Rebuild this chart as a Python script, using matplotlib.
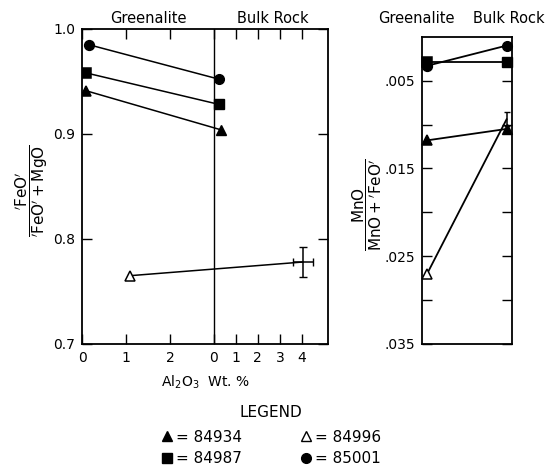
import numpy as np
import matplotlib.pyplot as plt
from matplotlib.lines import Line2D

# sample ids and marker styles
samples = ['84934', '84987', '84996', '85001']
markers = {'84934': '^', '84987': 's', '84996': '^', '85001': 'o'}
filled = {'84934': True, '84987': True, '84996': False, '85001': True}

# left panel: Al2O3 wt% and FeO/(FeO+MgO)
green_al = [0.1, 0.1, 1.1, 0.15]
green_fe = [0.941, 0.958, 0.765, 0.985]
bulk_al = [0.3, 0.25, 4.05, 0.25]
bulk_fe = [0.904, 0.928, 0.778, 0.952]
bulk_err_al = 0.45
bulk_err_fe = 0.014

# right panel: MnO/(MnO+FeO)
green_mn = [0.0118, 0.0029, 0.0270, 0.0033]
bulk_mn = [0.0105, 0.0029, 0.0094, 0.0010]
bulk_err_mn = 0.0008

def bx(v):
    # bulk rock scale is compressed and starts at the divider
    return 3 + np.asarray(v) / 2.0

fig = plt.figure(figsize=(5.47, 4.66), dpi=100)
ax1 = fig.add_axes([0.150, 0.262, 0.450, 0.676])
ax2 = fig.add_axes([0.771, 0.262, 0.165, 0.659])

for i, s in enumerate(samples):
    fc = 'black' if filled[s] else 'white'
    ax1.plot([green_al[i], bx(bulk_al[i])], [green_fe[i], bulk_fe[i]], color='black', lw=1.1, zorder=2)
    ax1.plot(green_al[i], green_fe[i], marker=markers[s], ms=7, mfc=fc, mec='black', mew=1.1, ls='none', zorder=3)
    if filled[s]:
        ax1.plot(bx(bulk_al[i]), bulk_fe[i], marker=markers[s], ms=7, mfc=fc, mec='black', ls='none', zorder=3)
    else:
        ax1.errorbar(bx(bulk_al[i]), bulk_fe[i], xerr=bulk_err_al / 2, yerr=bulk_err_fe,
                     fmt='none', ecolor='black', elinewidth=1.1, capsize=3, zorder=3)

    ax2.plot([0.06, 0.94], [green_mn[i], bulk_mn[i]], color='black', lw=1.3, zorder=2)
    ax2.plot(0.06, green_mn[i], marker=markers[s], ms=7, mfc=fc, mec='black', mew=1.1, ls='none', zorder=3, clip_on=False)
    if filled[s]:
        ax2.plot(0.94, bulk_mn[i], marker=markers[s], ms=7, mfc=fc, mec='black', ls='none', zorder=3, clip_on=False)
    else:
        ax2.errorbar(0.94, bulk_mn[i], yerr=bulk_err_mn, fmt='none', ecolor='black',
                     elinewidth=1.1, capsize=2.5, zorder=3)

ax1.axvline(3, color='black', lw=1.0)
ax1.set_xlim(0, 5.6)
ax1.set_ylim(0.7, 1.0)
ax1.set_xticks([0, 1, 2, 3, 3.5, 4, 4.5, 5])
ax1.set_xticklabels(['0', '1', '2', '0', '1', '2', '3', '4'])
ax1.set_yticks([0.7, 0.8, 0.9, 1.0])
ax1.set_yticklabels(['0.7', '0.8', '0.9', '1.0'])
ax1.tick_params(direction='in', length=7, width=1, top=True, right=True, labelsize=10, pad=5)
ax1.set_xlabel(r'Al$_2$O$_3$  Wt. %', fontsize=10, labelpad=6)
ax1.annotate('Greenalite', xy=(1.5, 1.0), xytext=(0, 2), textcoords='offset points',
             ha='center', va='bottom', fontsize=10.5, annotation_clip=False)
ax1.annotate('Bulk Rock', xy=(4.35, 1.0), xytext=(0, 2), textcoords='offset points',
             ha='center', va='bottom', fontsize=10.5, annotation_clip=False)

ax2.set_xlim(0, 1)
ax2.set_ylim(0.035, 0.0)
ax2.set_xticks([])
ax2.set_yticks([0.005, 0.010, 0.015, 0.020, 0.025, 0.030, 0.035])
ax2.set_yticklabels(['.005', '', '.015', '', '.025', '', '.035'])
ax2.tick_params(direction='in', length=7, width=1, right=True, labelsize=10, pad=5)
ax2.annotate('Greenalite', xy=(-0.06, 0.0), xytext=(0, 8), textcoords='offset points',
             ha='center', va='bottom', fontsize=10.5, annotation_clip=False)
ax2.annotate('Bulk Rock', xy=(0.97, 0.0), xytext=(0, 8), textcoords='offset points',
             ha='center', va='bottom', fontsize=10.5, annotation_clip=False)

for ax in (ax1, ax2):
    for sp in ax.spines.values():
        sp.set_linewidth(1.3)

fig.text(0.058, 0.59, r"$\dfrac{{}^{\prime}\mathrm{FeO}^{\prime}}{{}^{\prime}\mathrm{FeO}^{\prime}+\mathrm{MgO}}$",
         rotation=90, ha='center', va='center', fontsize=11)
fig.text(0.672, 0.56, r"$\dfrac{\mathrm{MnO}}{\mathrm{MnO}+{}^{\prime}\mathrm{FeO}^{\prime}}$",
         rotation=90, ha='center', va='center', fontsize=11)

handles = [Line2D([], [], marker=markers[s], ls='none', ms=7, color='black',
                  mfc='black' if filled[s] else 'white', mec='black') for s in samples]
labels = ['= ' + s for s in samples]
leg = fig.legend(handles, labels, ncol=2, loc='center', bbox_to_anchor=(0.495, 0.062),
                 frameon=False, title='LEGEND', fontsize=11, title_fontsize=11,
                 handlelength=0.8, handletextpad=0.2, columnspacing=3.8, labelspacing=0.45)
leg.get_title().set_position((0, 3))

fig.savefig('out.png', dpi=100)
